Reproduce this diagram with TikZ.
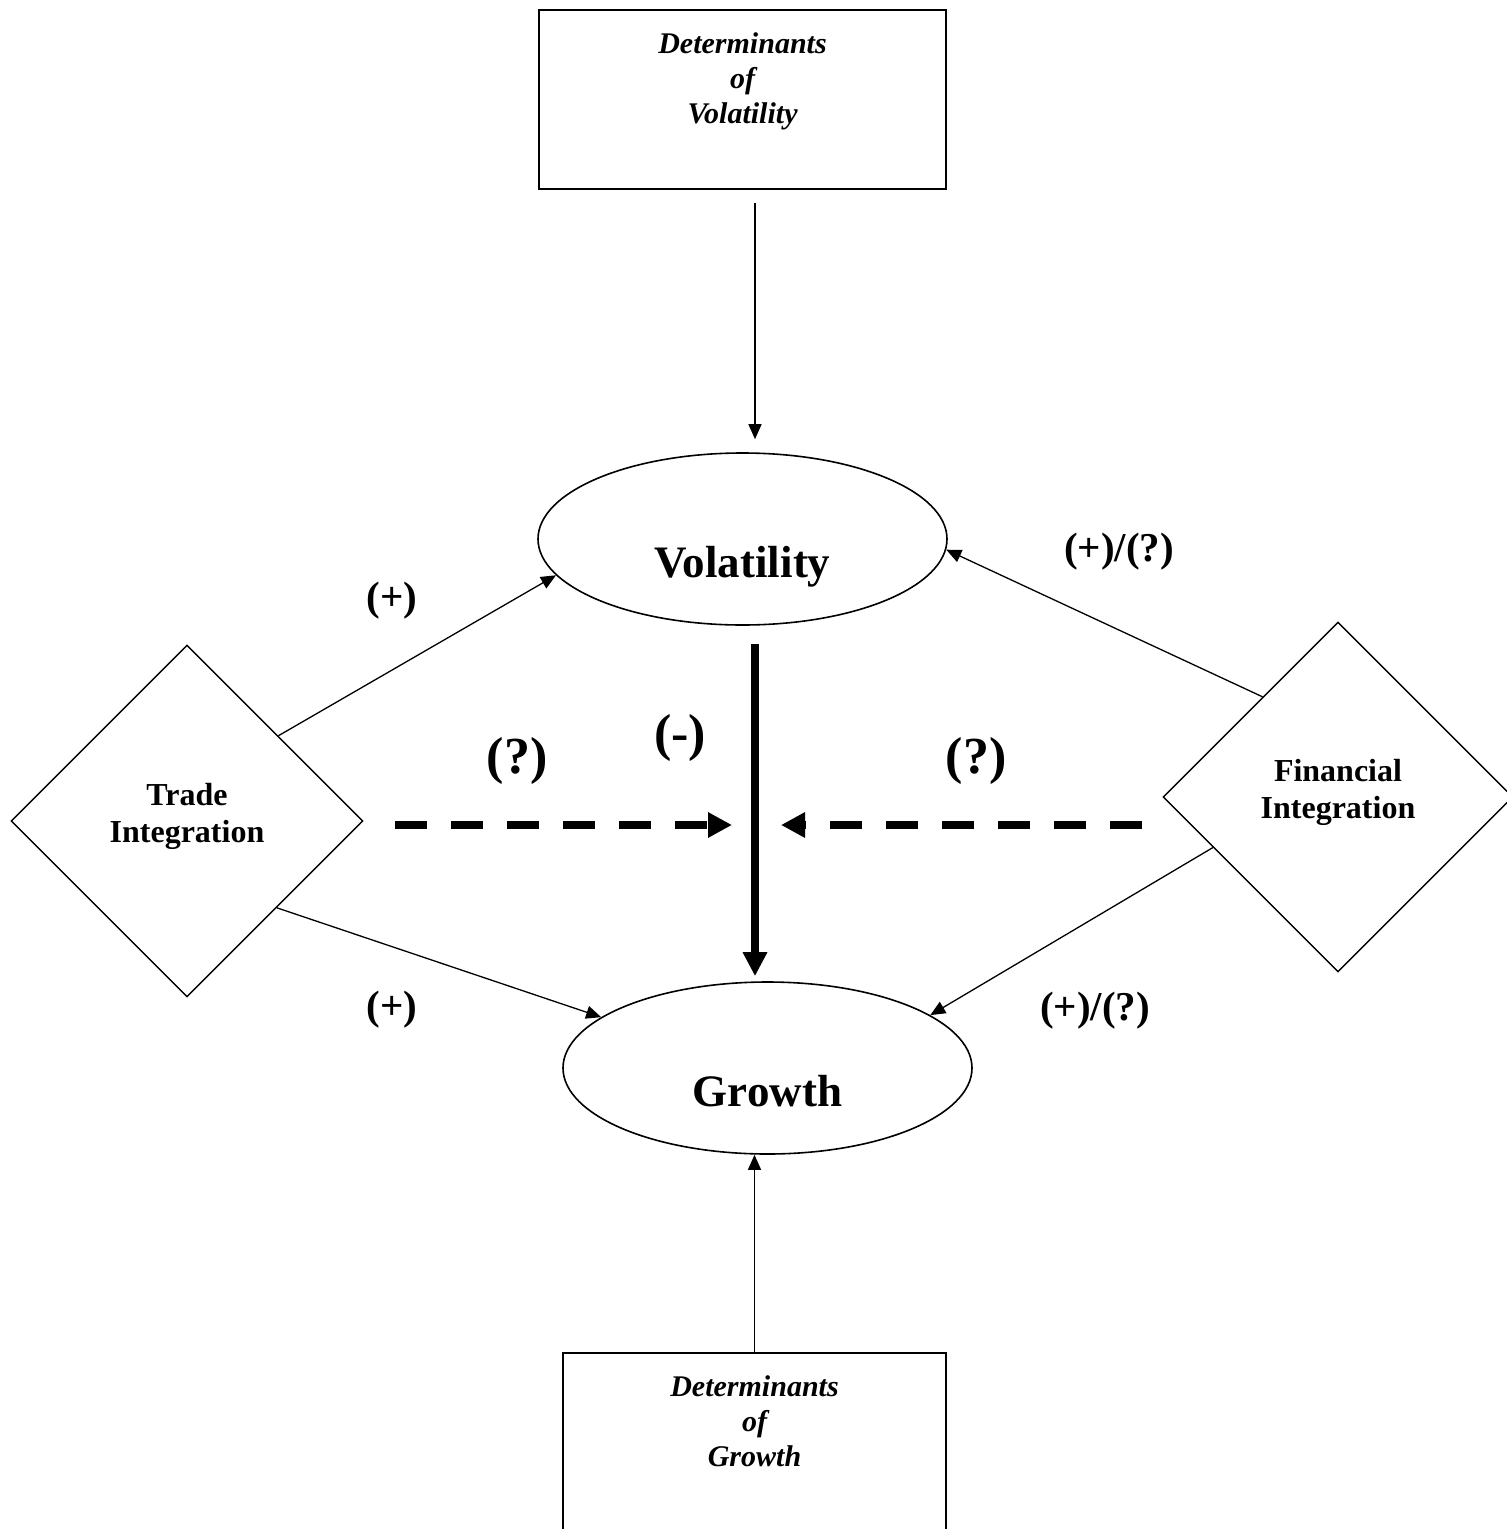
\documentclass[tikz,border=0pt]{standalone}
\usepackage{fontspec}
\setmainfont{Liberation Serif}
\usetikzlibrary{%
	arrows.meta,%
	shapes%
}
\tikzstyle{detbox}=[draw, line width=1.6pt, minimum width=407pt, minimum height=179pt, inner sep=0pt, align=center, font=\fontsize{30}{35}\selectfont\bfseries\itshape, text depth=42pt]
\tikzstyle{factor}=[draw, ellipse, line width=1.6pt, minimum width=409pt, minimum height=172pt, inner sep=0pt, font=\fontsize{45}{54}\selectfont\bfseries, text height=86pt, text depth=10pt]
\tikzstyle{channel}=[draw, diamond, aspect=1, line width=1.4pt, inner sep=0pt, align=center, font=\fontsize{32}{37}\selectfont\bfseries, text depth=17pt]
\tikzstyle{sign}=[inner sep=0pt, font=\fontsize{41}{48}\selectfont\bfseries]
\tikzstyle{bigsign}=[inner sep=0pt, font=\fontsize{52}{60}\selectfont\bfseries]
\tikzstyle{link}=[draw, line width=1.3pt, -{Triangle[length=15pt, width=13pt]}]
\tikzstyle{mainlink}=[draw, line width=8pt, -{Triangle[length=24pt, width=23pt]}]
\tikzstyle{dashlink}=[draw, line width=8pt, dash pattern=on 32pt off 24pt, -{Triangle[length=24pt, width=24pt]}]

\begin{document}
\begin{tikzpicture}[x=1pt, y=-1pt, line join=miter]
	\useasboundingbox (0,0) rectangle (1507,1529);

	\node[detbox] (vdet) at (742.5,99.5) {Determinants\\of\\Volatility};
	\node[detbox, minimum width=383pt] (gdet) at (754.5,1442.5) {Determinants\\of\\Growth};

	\node[factor] (vol) at (742.5,539) {Volatility};
	\node[factor] (growth) at (767.5,1068) {Growth};

	\node[channel, minimum width=352pt, minimum height=352pt] (trade) at (187,821) {Trade\\Integration};
	\node[channel, minimum width=350pt, minimum height=350pt] (fin) at (1338,797) {Financial\\Integration};

	\coordinate (tdash) at (395,825);
	\coordinate (tdashend) at (732,825);
	\coordinate (fdash) at (1142,825);
	\coordinate (fdashend) at (781,825);

	\draw[link] ([shift={(12.5,13)}]vdet.south) -- ([shift={(12.5,-13)}]vol.north);
	\draw[link] (gdet.north) -- (gdet.north |- growth.south);
	\draw[mainlink] ([shift={(12.5,18)}]vol.south) -- ([shift={(-12.5,-5)}]growth.north);

	\draw[link] (trade.43) -- (vol.191);
	\draw[link] (trade.-44) -- (growth.163);
	\draw[link] (fin.127) -- (vol.-3);
	\draw[link] (fin.202) -- (growth.18);

	\draw[dashlink] (tdash) -- (tdashend);
	\draw[dashlink] (fdash) -- (fdashend);

	% Signs of the effects
	\node[sign] (tvsign) at (392,601) {(+)};
	\node[sign] (tgsign) at (392,1010) {(+)};
	\node[sign] (fvsign) at (1119,552) {(+)/(?)};
	\node[sign] (fgsign) at (1095,1011) {(+)/(?)};
	\node[bigsign] (vgsign) at (680,738) {(-)};
	\node[bigsign] (tdsign) at (517,761) {(?)};
	\node[bigsign] (fdsign) at (976,761) {(?)};
\end{tikzpicture}
\end{document}
